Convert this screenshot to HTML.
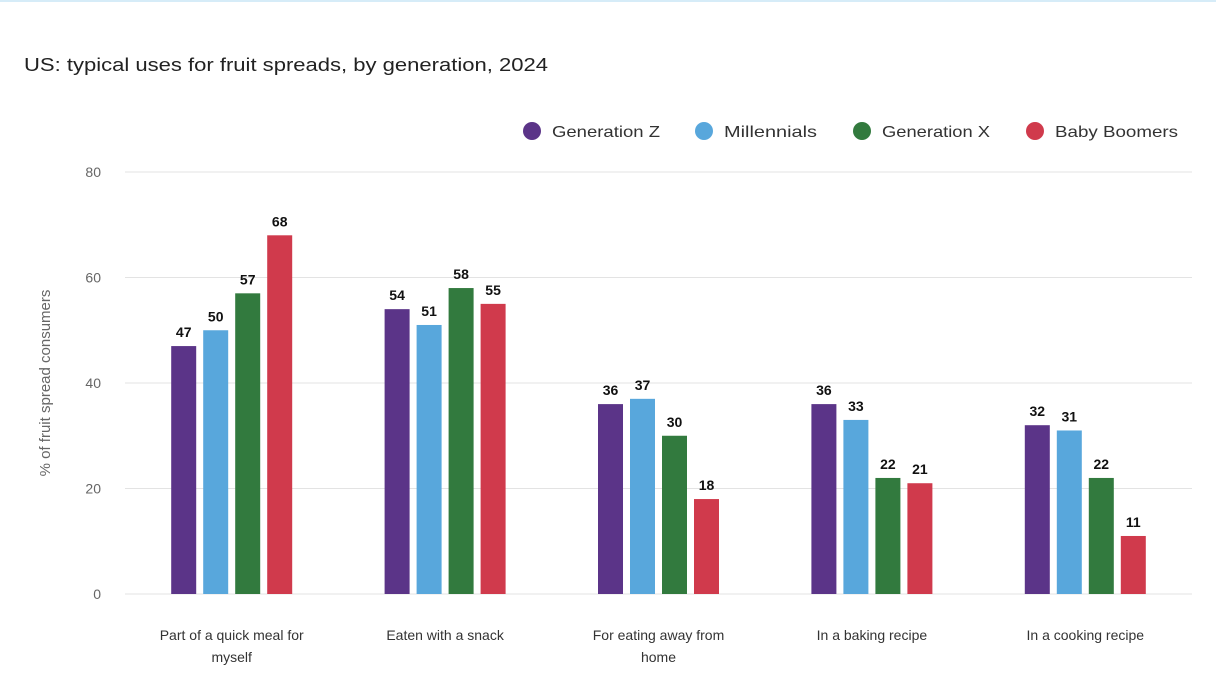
<!DOCTYPE html>
<html><head><meta charset="utf-8"><style>
html,body{margin:0;padding:0;background:#fff;}
svg{display:block;font-family:"Liberation Sans",sans-serif;}
</style></head><body>
<svg id="chart" width="1216" height="678">
<rect x="0" y="0" width="1216" height="2" fill="#d6ecf8"/>
<text x="24" y="71" font-size="18" fill="#222" textLength="524" lengthAdjust="spacingAndGlyphs">US: typical uses for fruit spreads, by generation, 2024</text>
<g id="legend"></g>
<g id="grid"></g>
<g id="bars"></g>
<g id="xlabels"></g>
<text transform="translate(50,383) rotate(-90)" text-anchor="middle" font-size="15" fill="#666">% of fruit spread consumers</text>
</svg>
<script>
const categories = [["Part of a quick meal for","myself"],["Eaten with a snack"],["For eating away from","home"],["In a baking recipe"],["In a cooking recipe"]];
const seriesNames = ["Generation Z","Millennials","Generation X","Baby Boomers"];
const genZ = [47,54,36,36,32];
const millennials = [50,51,37,33,31];
const genX = [57,58,30,22,22];
const boomers = [68,55,18,21,11];
const yTicks = [0,20,40,60,80];
const series = [genZ, millennials, genX, boomers];
const colors = ["#5b3488","#58a7dc","#327a3e","#d03a4c"];
const NS = "http://www.w3.org/2000/svg";
const x0 = 125, x1 = 1192, y0 = 594, yTop = 172;
function yScale(v){ return y0 - (v/80)*(y0-yTop); }
const band = (x1-x0)/categories.length;
function xCenter(i){ return x0 + band*(i+0.5); }
const bw = 25, step = 32;
function mk(tag, attrs, parent){ const e=document.createElementNS(NS,tag); for(const k in attrs) e.setAttribute(k,attrs[k]); parent.appendChild(e); return e; }
const grid = document.getElementById('grid');
yTicks.forEach(t=>{
  const l = mk('line',{x1:x0,x2:x1,y1:yScale(t),y2:yScale(t),stroke:'#e3e3e3','stroke-width':1},grid);
  
  
  const tx = mk('text',{x:101,y:yScale(t)+5,'text-anchor':'end','font-size':14,fill:'#666'},grid);
  tx.textContent = t;
  
  
});
const bars = document.getElementById('bars');
series.forEach((s,si)=>{
  s.forEach((v,ci)=>{
    const cx = xCenter(ci) + (si-1.5)*step;
    const r = mk('rect',{x:cx-bw/2,y:yScale(v),width:bw,height:y0-yScale(v),fill:colors[si]},bars);
    
    
    const t = mk('text',{x:cx,y:yScale(v)-9,'text-anchor':'middle','font-size':14,'font-weight':'bold',fill:'#111'},bars);
    t.textContent = v;
    
    
  });
});
const xl = document.getElementById('xlabels');
categories.forEach((c,i)=>{
  c.forEach((line,li)=>{
    const t = mk('text',{x:xCenter(i),y:640+li*22,'text-anchor':'middle','font-size':14,fill:'#333'},xl);
    t.textContent = line;
    
    
  });
});
const legend = document.getElementById('legend');
const legX = [532,704,862,1035];
const legW = [108,93,108,123];
seriesNames.forEach((n,i)=>{
  const g = mk('g',{},legend);
  
  
  mk('circle',{cx:legX[i],cy:131,r:9,fill:colors[i]},g);
  const t = mk('text',{x:legX[i]+20,y:137,'font-size':16,fill:'#333',textLength:legW[i],lengthAdjust:'spacingAndGlyphs'},g);
  t.textContent = n;
});
</script>
</body></html>
